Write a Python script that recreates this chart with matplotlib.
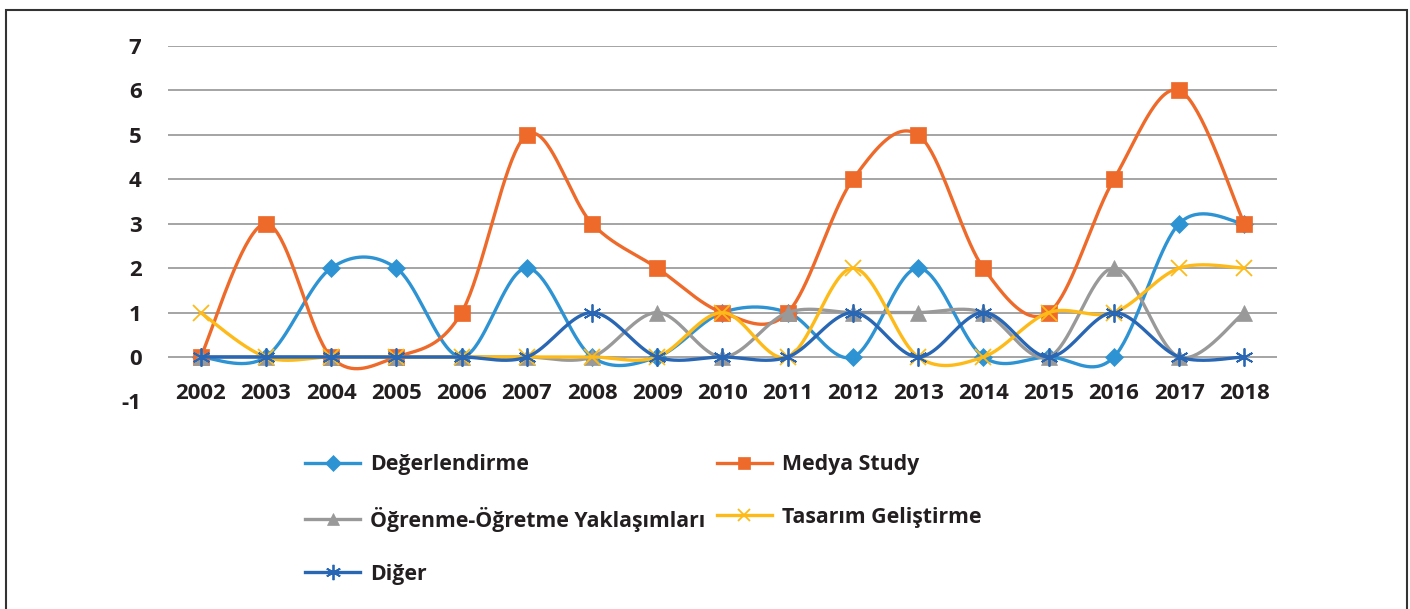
import numpy as np
import matplotlib
matplotlib.use("Agg")
import matplotlib.pyplot as plt
from matplotlib.lines import Line2D
from matplotlib.patches import Rectangle

years = [2002, 2003, 2004, 2005, 2006, 2007, 2008, 2009, 2010, 2011,
         2012, 2013, 2014, 2015, 2016, 2017, 2018]
degerlendirme = [0, 0, 2, 2, 0, 2, 0, 0, 1, 1, 0, 2, 0, 0, 0, 3, 3]
medya_study = [0, 3, 0, 0, 1, 5, 3, 2, 1, 1, 4, 5, 2, 1, 4, 6, 3]
ogrenme = [0, 0, 0, 0, 0, 0, 0, 1, 0, 1, 1, 1, 1, 0, 2, 0, 1]
tasarim = [1, 0, 0, 0, 0, 0, 0, 0, 1, 0, 2, 0, 0, 1, 1, 2, 2]
diger = [0, 0, 0, 0, 0, 0, 1, 0, 0, 0, 1, 0, 1, 0, 1, 0, 0]
y_ticks = [-1, 0, 1, 2, 3, 4, 5, 6, 7]

series = [
    ("Değerlendirme", degerlendirme, "#2E93D3", "D", 9),
    ("Medya Study", medya_study, "#EE6A2B", "s", 11),
    ("Öğrenme-Öğretme Yaklaşımları", ogrenme, "#999999", "^", 11),
    ("Tasarım Geliştirme", tasarim, "#FDBA18", "x", 11),
    ("Diğer", diger, "#2966B3", (6, 2, 0), 13),
]

FONT = "Open Sans"
plt.rcParams["font.family"] = [FONT, "DejaVu Sans"]


def smooth(xs, ys, n=40):
    xs = np.asarray(xs, float)
    ys = np.asarray(ys, float)
    P = np.column_stack([xs, ys])
    ext = np.vstack([P[0], P, P[-1]])
    out = []
    t = np.linspace(0, 1, n)[:, None]
    for i in range(len(P) - 1):
        p0, p1, p2, p3 = ext[i], ext[i + 1], ext[i + 2], ext[i + 3]
        c1 = p1 + (p2 - p0) / 6.0
        c2 = p2 - (p3 - p1) / 6.0
        seg = ((1 - t) ** 3) * p1 + 3 * ((1 - t) ** 2) * t * c1 + 3 * (1 - t) * t ** 2 * c2 + t ** 3 * p2
        out.append(seg if i == 0 else seg[1:])
    pts = np.vstack(out)
    return pts[:, 0], pts[:, 1]


fig = plt.figure(figsize=(14.10, 6.09), dpi=100)
fig.patches.append(Rectangle((6 / 1410, -0.1), 1401 / 1410, 1.1 - 9.5 / 609,
                             transform=fig.transFigure, fill=False,
                             edgecolor="#333333", linewidth=1.5))

ax = fig.add_axes([168 / 1410, 1 - 401.4 / 609, (1277 - 168) / 1410, (401.4 - 46) / 609])
ax.set_xlim(years[0] - 0.5, years[-1] + 0.5)
ax.set_ylim(-1, 7)

ax.hlines([v for v in y_ticks if v >= 0], years[0] - 0.5, years[-1] + 0.5,
          color="#8C8C8C", linewidth=1.1, zorder=1)

handles = []
for i, (name, vals, col, mk, ms) in enumerate(series):
    sx, sy = smooth(years, vals)
    ax.plot(sx, sy, color=col, linewidth=2.4, zorder=2 + i, solid_capstyle="round")
    mew = 1.3 if mk in ("x",) or isinstance(mk, tuple) else 0
    ax.plot(years, vals, linestyle="none", marker=mk, markersize=ms,
            color=col, markeredgecolor=col, markeredgewidth=mew if mew else 0.5,
            zorder=2 + i)
    handles.append(Line2D([], [], color=col, linewidth=2.4, marker=mk,
                          markersize=ms * 0.85, markeredgecolor=col,
                          markeredgewidth=mew if mew else 0.5))

for s in ["top", "right", "left"]:
    ax.spines[s].set_visible(False)
ax.spines["bottom"].set_position(("data", 0))
ax.spines["bottom"].set_visible(False)

ax.set_xticks(years)
ax.set_xticklabels([str(y) for y in years])
ax.set_yticks(y_ticks)
ax.set_yticklabels([str(v) for v in y_ticks])
ax.tick_params(axis="x", length=0, pad=19, labelsize=16, labelcolor="#231F20")
ax.tick_params(axis="y", length=0, pad=19, labelsize=16, labelcolor="#231F20")
for lab in ax.get_xticklabels() + ax.get_yticklabels():
    lab.set_fontweight("bold")

order = [0, 2, 4, 1, 3]
leg = fig.legend([handles[i] for i in order], [series[i][0] for i in order],
                 loc="upper left", bbox_to_anchor=(305 / 1410, 1 - 454 / 609),
                 ncol=2, frameon=False, borderpad=0, borderaxespad=0,
                 handlelength=2.6, handletextpad=0.45, labelspacing=1.5,
                 columnspacing=0.55,
                 prop={"family": [FONT, "DejaVu Sans"], "weight": "bold", "size": 15.3})
for t in leg.get_texts():
    t.set_color("#231F20")

fig.savefig("out.png", dpi=100)
